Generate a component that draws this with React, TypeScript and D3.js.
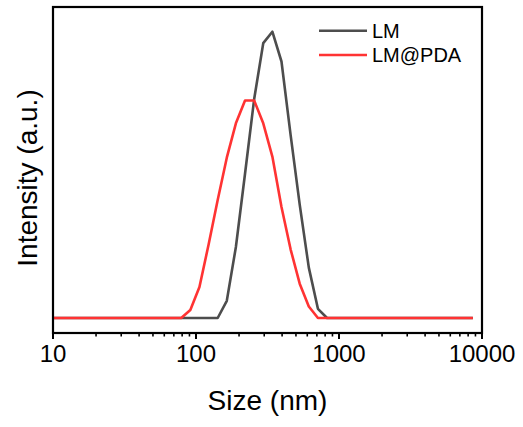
import React from "react";
import * as d3 from "d3";

const lmSize = [10, 141.8, 164.2, 190.1, 220.2, 255.0, 295.3, 342.0, 396.1, 458.7, 531.2, 615.1, 712.4, 825.0, 8635];
const lmIntensity = [0, 0, 1.5, 6.2, 12.6, 19.1, 24.0, 25.0, 22.4, 16.0, 9.9, 4.4, 0.8, 0, 0];

const pdaSize = [10, 78.82, 91.28, 105.7, 122.4, 141.8, 164.2, 190.1, 220.2, 255.0, 295.3, 342.0, 396.1, 458.7, 531.2, 615.1, 712.4, 8635];
const pdaIntensity = [0, 0, 0.7, 2.7, 6.4, 10.3, 14.0, 17.0, 19.0, 19.0, 17.0, 14.1, 9.7, 6.0, 3.0, 1.0, 0, 0];

const seriesNames = ["LM", "LM@PDA"];
const seriesColors = ["#4d4d4d", "#ff3333"];
const majorTicks = [10, 100, 1000, 10000];
const tickLabels = ["10", "100", "1000", "10000"];

const W = 523;
const H = 427;
const left = 53, right = 482, top = 7, bottom = 333;

export default function App() {
  const x = d3.scaleLog().domain([10, 10000]).range([left, right]);
  const y = d3.scaleLinear().domain([-1.31, 27.16]).range([bottom, top]);
  const line = d3
    .line<[number, number]>()
    .x((d) => x(d[0]))
    .y((d) => y(d[1]));

  const series = [
    lmSize.map((s, i) => [s, lmIntensity[i]] as [number, number]),
    pdaSize.map((s, i) => [s, pdaIntensity[i]] as [number, number]),
  ];

  const minor: number[] = [];
  for (let dec = 10; dec < 10000; dec *= 10) {
    for (let k = 2; k <= 9; k++) minor.push(dec * k);
  }

  const font = "Arial, 'Liberation Sans', sans-serif";

  return (
    <svg
      width={W}
      height={H}
      style={{ position: "absolute", left: 0, top: 0, background: "#fff" }}
      fontFamily={font}
    >
      <rect x={0} y={0} width={W} height={H} fill="#fff" />
      {series.map((d, i) => (
        <path
          key={i}
          d={line(d) || ""}
          fill="none"
          stroke={seriesColors[i]}
          strokeWidth={2.6}
          strokeLinejoin="round"
        />
      ))}
      <rect
        x={left}
        y={top}
        width={right - left}
        height={bottom - top}
        fill="none"
        stroke="#000"
        strokeWidth={2.2}
      />
      {majorTicks.map((t, i) => (
        <g key={t}>
          <line x1={x(t)} x2={x(t)} y1={bottom} y2={bottom + 6} stroke="#000" strokeWidth={2} />
          <text x={x(t)} y={362} textAnchor="middle" fontSize={24} fill="#000">
            {tickLabels[i]}
          </text>
        </g>
      ))}
      {minor.map((t) => (
        <line key={t} x1={x(t)} x2={x(t)} y1={bottom} y2={bottom + 3.5} stroke="#000" strokeWidth={1.6} />
      ))}
      <text x={(left + right) / 2} y={410} textAnchor="middle" fontSize={28} fill="#000">
        Size (nm)
      </text>
      <text
        transform={`translate(36.5, 178) rotate(-90)`}
        textAnchor="middle"
        fontSize={28}
        fill="#000"
      >
        Intensity (a.u.)
      </text>
      {seriesNames.map((n, i) => (
        <g key={n}>
          <line x1={319} x2={367} y1={30.7 + i * 24.3} y2={30.7 + i * 24.3} stroke={seriesColors[i]} strokeWidth={2.6} />
          <text x={372} y={38 + i * 24.3} fontSize={20} fill="#000">
            {n}
          </text>
        </g>
      ))}
    </svg>
  );
}
